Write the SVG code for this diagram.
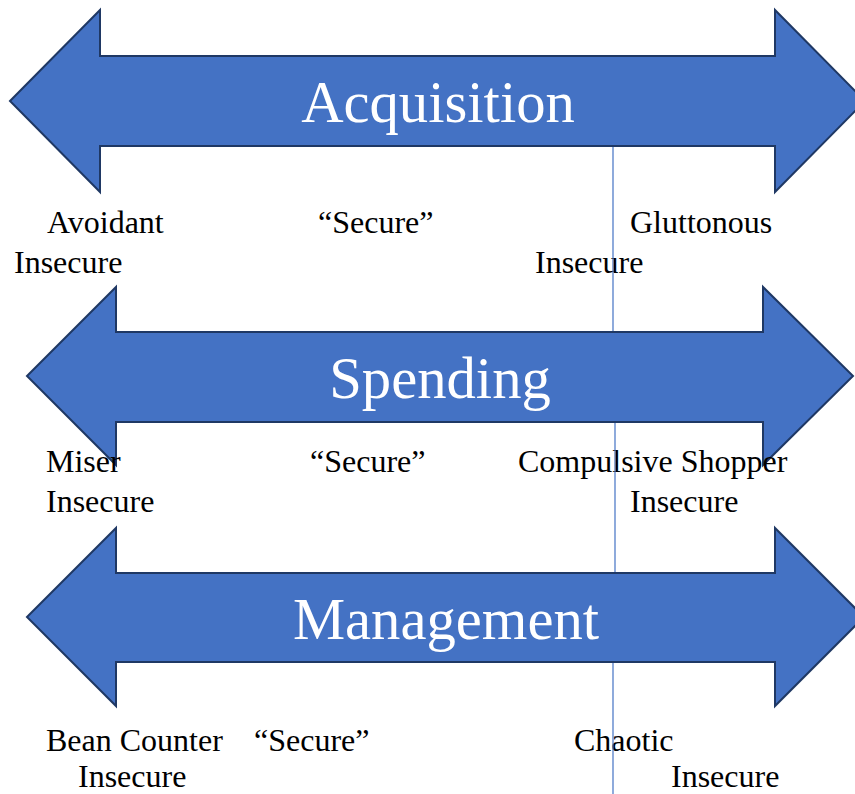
<svg xmlns="http://www.w3.org/2000/svg" width="855" height="794" viewBox="0 0 855 794">
  <style>
    .arrow { fill: #4472C4; stroke: #1F3864; stroke-width: 2; stroke-linejoin: miter; }
    .title { font-family: "Liberation Serif", "Times New Roman", serif; font-size: 58.67px; fill: #FFFFFF; text-anchor: middle; }
    .label { font-family: "Liberation Serif", "Times New Roman", serif; font-size: 32px; fill: #000000; }
    .divider { stroke: #4472C4; stroke-width: 1.2; fill: none; }
  </style>
  <rect width="855" height="794" fill="#FFFFFF"/>

  <!-- Double-headed arrows -->
  <g id="acquisition">
    <polygon class="arrow" points="10,101 100,10 100,56 775,56 775,10 865,101 775,192 775,146 100,146 100,192"/>
    <text class="title" x="438" y="122">Acquisition</text>
  </g>
  <g id="spending">
    <polygon class="arrow" points="27,376 116,287 116,332 763,332 763,287 853,376 763,465 763,422 116,422 116,465"/>
    <text class="title" x="440" y="398">Spending</text>
  </g>
  <g id="management">
    <polygon class="arrow" points="27,617 116,528 116,573 775,573 775,528 864,617 775,706 775,662 116,662 116,706"/>
    <text class="title" x="446" y="639">Management</text>
  </g>

  <!-- Scale labels -->
  <g id="acquisition-labels">
    <text class="label" x="47" y="233">Avoidant</text>
    <text class="label" x="14" y="273">Insecure</text>
    <text class="label" x="318" y="233">“Secure”</text>
    <text class="label" x="630" y="233">Gluttonous</text>
    <text class="label" x="535" y="273">Insecure</text>
  </g>
  <g id="spending-labels">
    <text class="label" x="46" y="472">Miser</text>
    <text class="label" x="46" y="512">Insecure</text>
    <text class="label" x="310" y="472">“Secure”</text>
    <text class="label" x="518" y="472">Compulsive Shopper</text>
    <text class="label" x="630" y="512">Insecure</text>
  </g>
  <g id="management-labels">
    <text class="label" x="46" y="751">Bean Counter</text>
    <text class="label" x="254" y="751">“Secure”</text>
    <text class="label" x="78" y="787">Insecure</text>
    <text class="label" x="574" y="751">Chaotic</text>
    <text class="label" x="671" y="787">Insecure</text>
  </g>

  <!-- Dividers between the arrows -->
  <g id="connectors">
    <line class="divider" x1="613" y1="147" x2="613" y2="331"/>
    <line class="divider" x1="615" y1="423" x2="615" y2="572"/>
    <line class="divider" x1="613" y1="663" x2="613" y2="794"/>
  </g>
</svg>
